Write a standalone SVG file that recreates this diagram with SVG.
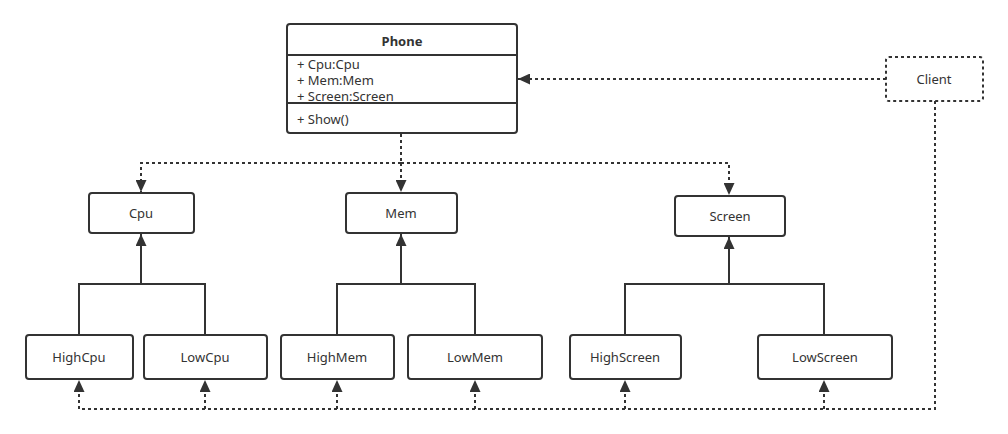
<svg xmlns="http://www.w3.org/2000/svg" width="1008" height="434" viewBox="0 0 1008 434">
<style>
.box{fill:#fff;stroke:#333;stroke-width:2}
.dbox{fill:#fff;stroke:#333;stroke-width:2;stroke-dasharray:3 3}
.t{font-family:"Noto Sans","Open Sans",sans-serif;font-size:13px;fill:#333;text-anchor:middle;dominant-baseline:central}
.tl{font-family:"Noto Sans","Open Sans",sans-serif;font-size:13px;fill:#333;dominant-baseline:central}
.solid{fill:none;stroke:#333;stroke-width:2}
.dash{fill:none;stroke:#333;stroke-width:2;stroke-dasharray:3 3}
</style>
<defs>
<marker id="ah" markerWidth="12" markerHeight="11" refX="12" refY="5.5" orient="auto" markerUnits="userSpaceOnUse">
<path d="M0,0 L12,5.5 L0,11 Z" fill="#333"/>
</marker>
</defs>
<rect width="1008" height="434" fill="#fff"/>
<g id="connectors">
<path class="dash" d="M886,79 H518" marker-end="url(#ah)"/>
<path class="dash" d="M401,134 V163"/>
<path class="dash" d="M401,163 H141 V192" marker-end="url(#ah)"/>
<path class="dash" d="M401,163 V192" marker-end="url(#ah)"/>
<path class="dash" d="M401,163 H729 V195" marker-end="url(#ah)"/>
<path class="solid" d="M79,335 V284 H205 V335"/>
<path class="solid" d="M141,284 V234" marker-end="url(#ah)"/>
<path class="solid" d="M337,335 V284 H475 V335"/>
<path class="solid" d="M401,284 V234" marker-end="url(#ah)"/>
<path class="solid" d="M625,335 V284 H824 V335"/>
<path class="solid" d="M729,284 V237" marker-end="url(#ah)"/>
<path class="dash" d="M935,101 V409 H79"/>
<path class="dash" d="M79,409 V380" marker-end="url(#ah)"/>
<path class="dash" d="M205,409 V380" marker-end="url(#ah)"/>
<path class="dash" d="M337,409 V380" marker-end="url(#ah)"/>
<path class="dash" d="M475,409 V380" marker-end="url(#ah)"/>
<path class="dash" d="M625,409 V380" marker-end="url(#ah)"/>
<path class="dash" d="M824,409 V380" marker-end="url(#ah)"/>
</g>
<g id="phone">
<rect class="box" x="287" y="24" width="230" height="109" rx="3"/>
<line x1="287" y1="55" x2="517" y2="55" stroke="#333" stroke-width="2"/>
<line x1="287" y1="103" x2="517" y2="103" stroke="#333" stroke-width="2"/>
<text class="t" x="402" y="41" font-weight="bold">Phone</text>
<text class="tl" x="297" y="64">+ Cpu:Cpu</text>
<text class="tl" x="297" y="80">+ Mem:Mem</text>
<text class="tl" x="297" y="96">+ Screen:Screen</text>
<text class="tl" x="297" y="119">+ Show()</text>
</g>
<g id="client">
<rect class="dbox" x="886" y="57" width="97" height="44" rx="3"/>
<text class="t" x="934" y="79">Client</text>
</g>
<g id="cpu">
<rect class="box" x="89" y="193" width="105" height="40" rx="3"/>
<text class="t" x="141" y="213">Cpu</text>
</g>
<g id="mem">
<rect class="box" x="346" y="193" width="111" height="40" rx="3"/>
<text class="t" x="401" y="213">Mem</text>
</g>
<g id="screen">
<rect class="box" x="675" y="196" width="110" height="40" rx="3"/>
<text class="t" x="730" y="216">Screen</text>
</g>
<g id="highcpu">
<rect class="box" x="26" y="335" width="107" height="44" rx="3"/>
<text class="t" x="79" y="357">HighCpu</text>
</g>
<g id="lowcpu">
<rect class="box" x="144" y="335" width="123" height="44" rx="3"/>
<text class="t" x="205" y="357">LowCpu</text>
</g>
<g id="highmem">
<rect class="box" x="281" y="335" width="113" height="44" rx="3"/>
<text class="t" x="337" y="357">HighMem</text>
</g>
<g id="lowmem">
<rect class="box" x="408" y="335" width="134" height="44" rx="3"/>
<text class="t" x="475" y="357">LowMem</text>
</g>
<g id="highscreen">
<rect class="box" x="570" y="335" width="111" height="44" rx="3"/>
<text class="t" x="625" y="357">HighScreen</text>
</g>
<g id="lowscreen">
<rect class="box" x="758" y="335" width="134" height="44" rx="3"/>
<text class="t" x="825" y="357">LowScreen</text>
</g>
</svg>
